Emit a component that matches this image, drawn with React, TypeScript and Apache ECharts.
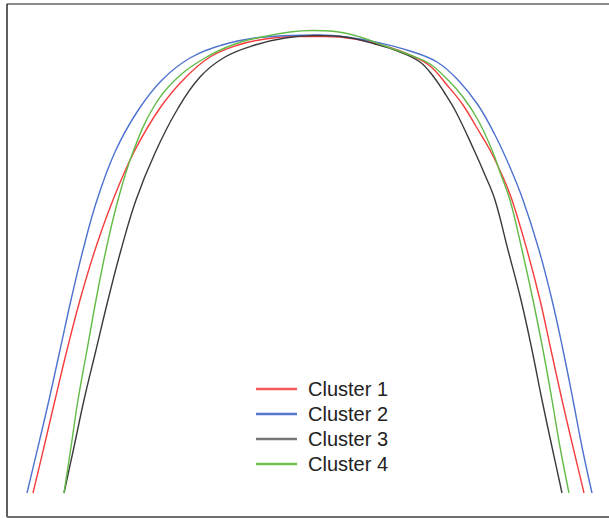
import React, { useEffect, useRef } from "react";
import * as echarts from "echarts";

// Arch curves, x = lateral position (mm), y = depth from incisal point (mm)
const cluster1: [number, number][] = [
  [-27.7, 46.3], [-26.6, 41.7], [-25.5, 37.0], [-24.3, 32.0], [-23.0, 27.0], [-21.5, 22.0],
  [-19.7, 17.0], [-17.6, 12.2], [-15.0, 7.8], [-12.5, 4.8], [-10.0, 2.7], [-7.2, 1.5],
  [-4.5, 0.9], [-1.5, 0.65], [1.5, 0.65], [4.5, 0.9], [7.5, 1.6], [10.0, 2.5], [12.0, 3.6],
  [13.7, 5.5], [15.3, 7.5], [16.7, 9.8], [18.0, 12.0], [19.2, 14.5], [20.2, 17.0],
  [21.7, 22.0], [23.0, 27.0], [24.1, 32.0], [25.2, 37.0], [26.3, 41.7], [27.4, 46.3],
];
const cluster2: [number, number][] = [
  [-28.3, 46.3], [-27.2, 41.7], [-26.1, 37.0], [-25.0, 32.0], [-23.9, 27.0], [-22.7, 22.0],
  [-21.3, 17.0], [-19.5, 12.2], [-17.3, 8.2], [-14.8, 5.0], [-12.0, 2.8], [-8.8, 1.5],
  [-5.5, 0.8], [-2.0, 0.55], [1.0, 0.5], [4.0, 0.75], [7.0, 1.3], [10.0, 2.1], [12.7, 3.2],
  [14.8, 5.0], [16.8, 7.5], [18.5, 10.5], [19.9, 13.5], [21.3, 17.0], [22.9, 22.0],
  [24.2, 27.0], [25.3, 32.0], [26.3, 37.0], [27.2, 41.7], [28.2, 46.3],
];
const cluster3: [number, number][] = [
  [-24.6, 46.3], [-23.6, 41.7], [-22.6, 37.0], [-21.4, 32.0], [-20.2, 27.0], [-18.9, 22.0],
  [-17.4, 17.0], [-15.5, 12.3], [-13.3, 8.0], [-11.0, 4.7], [-8.5, 2.7], [-5.5, 1.5],
  [-2.5, 0.8], [0.5, 0.55], [3.5, 0.7], [6.5, 1.4], [9.0, 2.2], [11.0, 3.2], [12.3, 4.6],
  [13.4, 6.2], [14.6, 8.2], [16.4, 12.0], [17.5, 14.5], [18.5, 17.0], [19.8, 22.0],
  [21.1, 27.0], [22.2, 32.0], [23.2, 37.0], [24.2, 41.7], [25.2, 46.3],
];
const cluster4: [number, number][] = [
  [-24.6, 46.3], [-23.9, 41.7], [-23.2, 37.0], [-22.3, 32.0], [-21.4, 27.0], [-20.4, 22.0],
  [-19.2, 17.0], [-17.7, 12.2], [-15.7, 7.8], [-13.5, 5.0], [-10.5, 2.8], [-7.5, 1.4],
  [-4.8, 0.7], [-2.0, 0.2], [0.2, 0.05], [2.5, 0.15], [5.0, 0.7], [7.5, 1.6], [10.0, 2.5],
  [12.0, 3.4], [13.8, 5.0], [15.3, 6.7], [16.8, 9.0], [18.2, 12.0], [19.1, 14.5],
  [20.0, 17.0], [21.2, 22.0], [22.3, 27.0], [23.3, 32.0], [24.2, 37.0], [25.0, 41.7],
  [25.9, 46.3],
];

const seriesNames = ["Cluster 1", "Cluster 2", "Cluster 3", "Cluster 4"];
const seriesData = [cluster1, cluster2, cluster3, cluster4];
const seriesColors = ["#f53b3b", "#4d72cf", "#3a3a3a", "#62ba47"];
const legendColors = ["#f55a5a", "#5577cc", "#777777", "#70c050"];

export default function App() {
  const ref = useRef<HTMLDivElement>(null);
  useEffect(() => {
    if (!ref.current) return;
    const chart = echarts.init(ref.current, undefined, { renderer: "svg" });
    chart.setOption({
      animation: false,
      backgroundColor: "#ffffff",
      grid: { left: 0, right: 0, top: 0, bottom: 0 },
      xAxis: { type: "value", min: -31.0, max: 29.9, show: false, splitLine: { show: false } },
      yAxis: { type: "value", min: -3.0, max: 48.8, inverse: true, show: false, splitLine: { show: false } },
      legend: {
        orient: "vertical",
        left: 256,
        top: 379,
        padding: 0,
        itemWidth: 41,
        itemHeight: 2.5,
        itemGap: 5,
        icon: "rect",
        data: seriesNames.map((name, i) => ({ name, itemStyle: { color: legendColors[i] } })),
        textStyle: {
          fontSize: 20,
          color: "#222222",
          fontFamily: "Liberation Sans, Arial, sans-serif",
          padding: [0, 0, 0, 6],
        },
      },
      graphic: [
        { type: "line", shape: { x1: 7, y1: 4, x2: 609, y2: 4 }, style: { stroke: "#8a8a8a", lineWidth: 2 } },
        { type: "line", shape: { x1: 7, y1: 4, x2: 7, y2: 517 }, style: { stroke: "#2a2a2a", lineWidth: 1.5 } },
        { type: "line", shape: { x1: 7, y1: 517, x2: 609, y2: 517 }, style: { stroke: "#707070", lineWidth: 2 } },
      ],
      series: seriesNames.map((name, i) => ({
        name,
        type: "line",
        data: seriesData[i],
        symbol: "none",
        smooth: 0.4,
        color: seriesColors[i],
        lineStyle: { width: 1.4, color: seriesColors[i] },
      })),
    });
    return () => chart.dispose();
  }, []);
  return (
    <div
      ref={ref}
      style={{ position: "absolute", left: 0, top: 0, width: 609, height: 518 }}
    />
  );
}
